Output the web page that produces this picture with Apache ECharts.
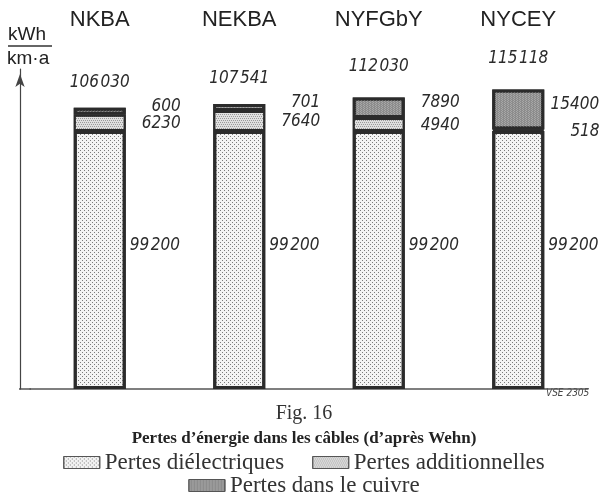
<!DOCTYPE html>
<html lang="fr">
<head>
<meta charset="UTF-8">
<title>Fig. 16</title>
<script src="https://cdn.jsdelivr.net/npm/echarts@6/dist/echarts.min.js"></script>
<style>
  html, body { margin: 0; padding: 0; background: #fff; }
  #chart { width: 608px; height: 499px; }
</style>
</head>
<body>
<div id="chart"></div>
<script>
  // cable types and losses (kWh / km·a)
  const cables = ['NKBA', 'NEKBA', 'NYFGbY', 'NYCEY'];
  const dielectric = [99200, 99200, 99200, 99200];
  const additional = [6230, 7640, 4940, 518];
  const copper = [600, 701, 7890, 15400];
  const totals = cables.map((c, i) => dielectric[i] + additional[i] + copper[i]);

  const numFont = "'DejaVu Sans Condensed', 'Liberation Sans Narrow', 'DejaVu Sans', sans-serif";
  const serif = "'Liberation Serif', 'DejaVu Serif', serif";
  const ink = '#2b2b2b';

  // narrow space grouping for the big numbers
  function fmt(v) {
    if (v < 50000) return String(v);
    return String(v).replace(/\B(?=(\d{3})+(?!\d))/g, '\u200a');
  }

  const labelBase = {
    show: true,
    fontFamily: numFont,
    fontStyle: 'italic',
    fontWeight: 'normal',
    fontSize: 17,
    color: ink
  };

  const chart = echarts.init(document.getElementById('chart'));
  chart.setOption({
    animation: false,
    backgroundColor: '#fff',
    title: {
      text: 'Fig. 16',
      subtext: 'Pertes d\u2019énergie dans les câbles (d\u2019après Wehn)',
      left: 'center',
      top: 399,
      itemGap: 6,
      textStyle: { fontFamily: serif, fontSize: 20, fontWeight: 'normal', color: '#333' },
      subtextStyle: { fontFamily: serif, fontSize: 17, fontWeight: 'bold', color: '#222' }
    },
    legend: [
      {
        data: ['Pertes diélectriques', 'Pertes additionnelles'],
        icon: 'rect',
        left: 'center',
        top: 446,
        itemWidth: 36,
        itemHeight: 12,
        itemGap: 28,
        itemStyle: { borderColor: '#555', borderWidth: 1 },
        textStyle: { fontFamily: serif, fontSize: 23, color: '#333' }
      },
      {
        data: ['Pertes dans le cuivre'],
        icon: 'rect',
        left: 'center',
        top: 469,
        itemWidth: 36,
        itemHeight: 12,
        itemStyle: { borderColor: '#555', borderWidth: 1 },
        textStyle: { fontFamily: serif, fontSize: 23, color: '#333' }
      }
    ],
    grid: { left: 30, right: 20, top: 69, bottom: 110 },
    xAxis: [
      {
        type: 'category',
        data: cables,
        position: 'bottom',
        axisLine: { lineStyle: { color: '#555', width: 1.5 } },
        axisTick: { show: false },
        axisLabel: { show: false }
      },
      {
        type: 'category',
        data: cables,
        position: 'top',
        axisLine: { show: false },
        axisTick: { show: false },
        axisLabel: {
          margin: 38,
          fontFamily: "'Liberation Sans', Arial, sans-serif",
          fontSize: 22,
          color: '#222'
        }
      }
    ],
    yAxis: {
      type: 'value',
      min: 0,
      max: 123000,
      offset: 10,
      axisLine: {
        show: true,
        symbol: ['none', 'arrow'],
        symbolSize: [7, 13],
        symbolOffset: [0, -5],
        lineStyle: { color: '#444', width: 1.2 }
      },
      axisTick: { show: false },
      axisLabel: { show: false },
      splitLine: { show: false }
    },
    graphic: [
      { type: 'text', left: 8, top: 25, style: { text: 'kWh', fontFamily: "'Liberation Sans', sans-serif", fontSize: 19, fill: '#222' } },
      { type: 'line', shape: { x1: 8, y1: 46, x2: 52, y2: 46 }, style: { stroke: '#333', lineWidth: 1.5 } },
      { type: 'text', left: 7, top: 49, style: { text: 'km\u00b7a', fontFamily: "'Liberation Sans', sans-serif", fontSize: 19, fill: '#222' } },
      { type: 'line', shape: { x1: 19, y1: 389, x2: 31, y2: 389 }, style: { stroke: '#555', lineWidth: 1.5 } },
      { type: 'text', left: 546, top: 388, style: { text: 'VSE 2305', fontFamily: numFont, fontStyle: 'italic', fontSize: 10, fill: '#444' } }
    ],
    series: [
      {
        name: 'Pertes diélectriques',
        type: 'bar',
        stack: 'p',
        barWidth: 52,
        data: dielectric,
        itemStyle: {
          color: '#f3f3f3',
          borderColor: ink,
          borderWidth: 3,
          decal: {
            symbol: 'rect',
            symbolSize: 1,
            color: '#7a7a7a',
            dashArrayX: [[1, 3], [0, 2, 1, 1]],
            dashArrayY: [1, 1]
          }
        },
        label: Object.assign({}, labelBase, {
          position: 'right',
          distance: 4,
          offset: [0, -14],
          formatter: p => fmt(p.value)
        })
      },
      {
        name: 'Pertes additionnelles',
        type: 'bar',
        stack: 'p',
        data: additional,
        itemStyle: {
          color: '#e0e0e0',
          borderColor: ink,
          borderWidth: 2,
          decal: {
            symbol: 'rect',
            symbolSize: 1,
            color: '#9a9a9a',
            dashArrayX: [[1, 1], [0, 1, 1, 0]],
            dashArrayY: [1, 1]
          }
        },
        label: Object.assign({}, labelBase, {
          position: 'right',
          distance: 55,
          align: 'right',
          offset: [0, 1],
          formatter: p => fmt(p.value)
        })
      },
      {
        name: 'Pertes dans le cuivre',
        type: 'bar',
        stack: 'p',
        barMinHeight: 7,
        data: copper,
        itemStyle: {
          color: '#8c8c8c',
          borderColor: ink,
          borderWidth: 3,
          decal: {
            symbol: 'rect',
            symbolSize: 1,
            color: '#a8a8a8',
            dashArrayX: [[1, 2], [0, 1, 1, 1]],
            dashArrayY: [1, 0]
          }
        },
        label: Object.assign({}, labelBase, {
          position: 'right',
          distance: 55,
          align: 'right',
          offset: [0, -5],
          formatter: p => fmt(p.value)
        })
      },
      {
        name: 'total',
        type: 'scatter',
        data: totals,
        symbolSize: 0,
        silent: true,
        itemStyle: { opacity: 1 },
        label: Object.assign({}, labelBase, {
          position: 'top',
          distance: 22,
          formatter: p => fmt(p.value)
        })
      }
    ]
  });
</script>
</body>
</html>
